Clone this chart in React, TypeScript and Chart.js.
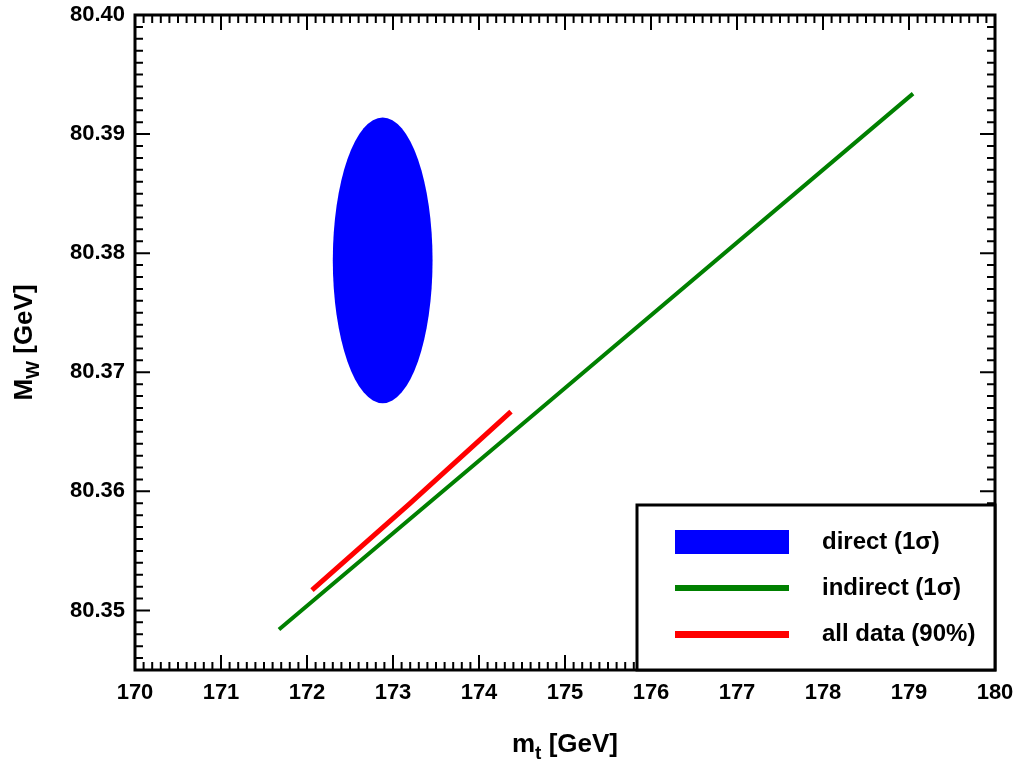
import { useEffect, useRef } from "react";
import { Chart, registerables } from "chart.js";

Chart.register(...registerables);

// ---- data ----
const xMin = 170;
const xMax = 180;
const yMin = 80.345;
const yMax = 80.4;
const xTickValues = [170, 171, 172, 173, 174, 175, 176, 177, 178, 179, 180];
const yTickValues = [80.35, 80.36, 80.37, 80.38, 80.39, 80.4];
const xMinorStep = 0.1;
const yMinorStep = 0.001;

// direct measurement (1 sigma ellipse)
const directMt = 172.88;
const directMtSigma = 0.58;
const directMw = 80.3794;
const directMwSigma = 0.012;

// indirect (1 sigma) band
const indirectMt = [171.674, 174.709, 179.047];
const indirectMw = [80.3484, 80.3669, 80.3934];

// all data (90%)
const allMt = [172.058, 173.198, 174.372];
const allMw = [80.3517, 80.359, 80.3667];

const legendLabels = ["direct (1\u03c3)", "indirect (1\u03c3)", "all data (90%)"];
const colorDirect = "#0000ff";
const colorIndirect = "#008000";
const colorAll = "#ff0000";

const FONT = "'Liberation Sans', Arial, Helvetica, sans-serif";

const framePlugin = {
  id: "framePlugin",
  beforeDatasetsDraw(chart: any) {
    const { ctx, chartArea, scales } = chart;
    const xs = scales.x;
    const ys = scales.y;
    ctx.save();
    ctx.beginPath();
    ctx.rect(chartArea.left, chartArea.top, chartArea.right - chartArea.left, chartArea.bottom - chartArea.top);
    ctx.clip();
    const cx = xs.getPixelForValue(directMt);
    const cy = ys.getPixelForValue(directMw);
    const rx = Math.abs(xs.getPixelForValue(directMt + directMtSigma) - cx);
    const ry = Math.abs(ys.getPixelForValue(directMw + directMwSigma) - cy);
    ctx.fillStyle = colorDirect;
    ctx.beginPath();
    ctx.ellipse(cx, cy, rx, ry, 0, 0, Math.PI * 2);
    ctx.fill();
    ctx.restore();
  },
  afterDraw(chart: any) {
    const { ctx, chartArea, scales } = chart;
    const xs = scales.x;
    const ys = scales.y;
    const { left, right, top, bottom } = chartArea;
    ctx.save();
    ctx.strokeStyle = "#000";
    ctx.lineWidth = 2;
    ctx.lineCap = "butt";
    const major = 15;
    const minor = 8;
    // x ticks
    const nx = Math.round((xMax - xMin) / xMinorStep);
    for (let i = 0; i <= nx; i++) {
      const v = xMin + i * xMinorStep;
      const px = xs.getPixelForValue(v);
      const len = i % 10 === 0 ? major : minor;
      ctx.beginPath();
      ctx.moveTo(px, bottom);
      ctx.lineTo(px, bottom - len);
      ctx.moveTo(px, top);
      ctx.lineTo(px, top + len);
      ctx.stroke();
    }
    // y ticks
    const ny = Math.round((yMax - yMin) / yMinorStep);
    for (let i = 0; i <= ny; i++) {
      const v = yMin + i * yMinorStep;
      const py = ys.getPixelForValue(v);
      const isMajor = Math.round(v * 1000) % 10 === 0;
      const len = isMajor ? major : minor;
      ctx.beginPath();
      ctx.moveTo(left, py);
      ctx.lineTo(left + len, py);
      ctx.moveTo(right, py);
      ctx.lineTo(right - len, py);
      ctx.stroke();
    }
    // frame
    ctx.lineWidth = 3;
    ctx.strokeRect(left, top, right - left, bottom - top);

    // legend
    const lx0 = 637;
    const ly0 = 505;
    ctx.fillStyle = "#fff";
    ctx.fillRect(lx0, ly0, right - lx0, bottom - ly0);
    ctx.lineWidth = 3;
    ctx.strokeRect(lx0, ly0, right - lx0, bottom - ly0);
    const symX = 675;
    const symW = 114;
    const rows = [542, 588, 634];
    ctx.fillStyle = colorDirect;
    ctx.fillRect(symX, rows[0] - 12, symW, 24);
    ctx.fillStyle = colorIndirect;
    ctx.fillRect(symX, rows[1] - 3, symW, 6);
    ctx.fillStyle = colorAll;
    ctx.fillRect(symX, rows[2] - 3, symW, 7);
    ctx.fillStyle = "#000";
    ctx.font = `bold 24px ${FONT}`;
    ctx.textAlign = "left";
    ctx.textBaseline = "middle";
    legendLabels.forEach((t, i) => ctx.fillText(t, 822, rows[i]));

    // x axis title: m_t [GeV]
    const big = `bold 26px ${FONT}`;
    const small = `bold 19px ${FONT}`;
    ctx.textBaseline = "alphabetic";
    ctx.font = big;
    const wM = ctx.measureText("m").width;
    const wRest = ctx.measureText(" [GeV]").width;
    ctx.font = small;
    const wT = ctx.measureText("t").width;
    const total = wM + wT + wRest;
    const x0 = (left + right) / 2 - total / 2;
    const base = 752;
    ctx.font = big;
    ctx.fillText("m", x0, base);
    ctx.font = small;
    ctx.fillText("t", x0 + wM, base + 7);
    ctx.font = big;
    ctx.fillText(" [GeV]", x0 + wM + wT, base);

    // y axis title: M_W [GeV]
    ctx.save();
    ctx.translate(32, (top + bottom) / 2);
    ctx.rotate(-Math.PI / 2);
    ctx.font = big;
    const wMM = ctx.measureText("M").width;
    const wR2 = ctx.measureText(" [GeV]").width;
    ctx.font = small;
    const wW = ctx.measureText("W").width;
    const tot2 = wMM + wW + wR2;
    const s0 = -tot2 / 2;
    ctx.font = big;
    ctx.fillText("M", s0, 0);
    ctx.font = small;
    ctx.fillText("W", s0 + wMM, 7);
    ctx.font = big;
    ctx.fillText(" [GeV]", s0 + wMM + wW, 0);
    ctx.restore();

    ctx.restore();
  },
};

export default function App() {
  const ref = useRef<HTMLCanvasElement | null>(null);
  useEffect(() => {
    if (!ref.current) return;
    const tickFont = { family: FONT, size: 22, weight: "bold" as const };
    const chart = new Chart(ref.current, {
      type: "scatter",
      data: {
        datasets: [
          {
            label: legendLabels[1],
            data: indirectMt.map((x, i) => ({ x, y: indirectMw[i] })),
            showLine: true,
            borderColor: colorIndirect,
            borderWidth: 4,
            pointRadius: 0,
            fill: false,
          },
          {
            label: legendLabels[2],
            data: allMt.map((x, i) => ({ x, y: allMw[i] })),
            showLine: true,
            borderColor: colorAll,
            borderWidth: 5,
            pointRadius: 0,
            fill: false,
          },
        ],
      },
      options: {
        animation: false,
        responsive: false,
        devicePixelRatio: 1,
        layout: { padding: { left: 0, top: 15, right: 22, bottom: 0 } },
        plugins: { legend: { display: false }, tooltip: { enabled: false }, title: { display: false } },
        scales: {
          x: {
            type: "linear",
            position: "bottom",
            min: xMin,
            max: xMax,
            grid: { display: false, drawTicks: false },
            border: { display: false },
            ticks: {
              font: tickFont,
              color: "#000",
              padding: 10,
              maxRotation: 0,
              callback: (v: any) => String(v),
            },
            afterBuildTicks: (scale: any) => {
              scale.ticks = xTickValues.map((v) => ({ value: v }));
            },
            afterFit: (scale: any) => {
              scale.height = 89;
              scale.paddingLeft = 0;
              scale.paddingRight = 0;
              scale.paddingTop = 0;
              scale.paddingBottom = 0;
            },
          },
          y: {
            type: "linear",
            position: "left",
            min: yMin,
            max: yMax,
            grid: { display: false, drawTicks: false },
            border: { display: false },
            ticks: {
              font: tickFont,
              color: "#000",
              padding: 10,
              callback: (v: any) => Number(v).toFixed(2),
            },
            afterBuildTicks: (scale: any) => {
              scale.ticks = yTickValues.map((v) => ({ value: v }));
            },
            afterFit: (scale: any) => {
              scale.width = 135;
              scale.paddingLeft = 0;
              scale.paddingRight = 0;
              scale.paddingTop = 0;
              scale.paddingBottom = 0;
            },
          },
        },
      },
      plugins: [framePlugin],
    });
    return () => chart.destroy();
  }, []);
  return (
    <div style={{ position: "absolute", left: 0, top: 0, width: 1017, height: 759, background: "#fff" }}>
      <canvas ref={ref} width={1017} height={759} />
    </div>
  );
}
